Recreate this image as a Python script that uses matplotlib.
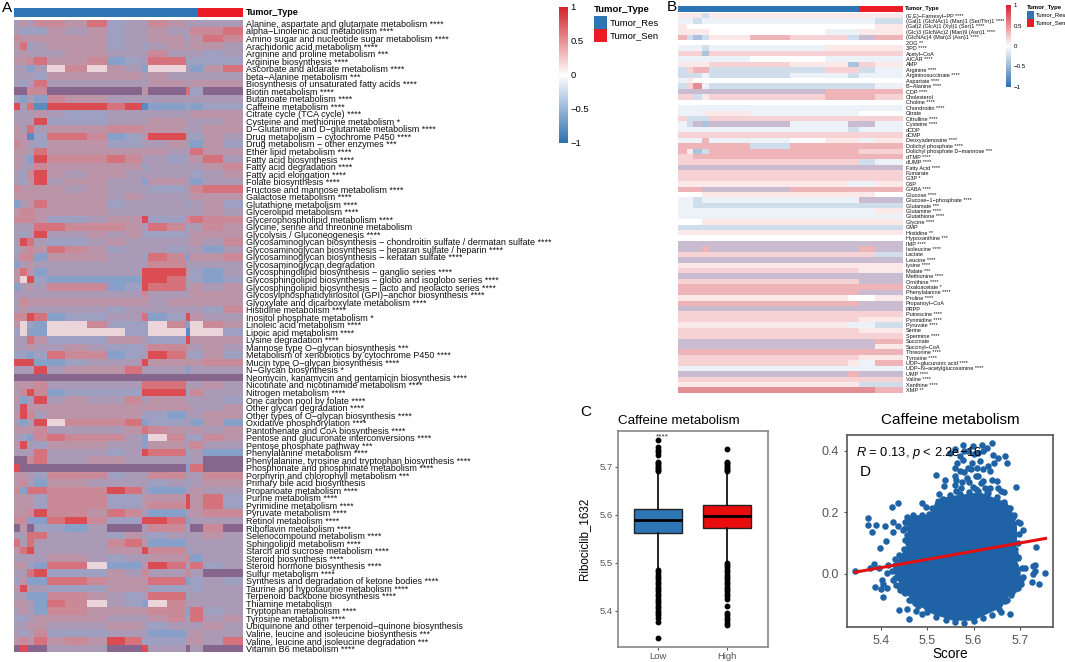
import numpy as np
import matplotlib
matplotlib.use("Agg")
import matplotlib.pyplot as plt
from matplotlib.cm import ScalarMappable
from matplotlib.colors import BoundaryNorm, LinearSegmentedColormap, ListedColormap, Normalize
from matplotlib.patches import Rectangle

plt.rcParams['font.family'] = ['Liberation Sans', 'DejaVu Sans']
plt.rcParams['mathtext.fontset'] = 'custom'
plt.rcParams['mathtext.it'] = 'Liberation Sans:italic'
plt.rcParams['mathtext.rm'] = 'Liberation Sans'

W, H = 1065, 662
M = "\u2212"

res_color = "#2e75b6"
sen_color = "#ec1c24"
tumor_counts_a = [184, 45]
tumor_counts_b = [181, 44]

# panel A, rows of pathways
pathways = [
    "Alanine, aspartate and glutamate metabolism ****", "alpha-Linolenic acid metabolism ****",
    "Amino sugar and nucleotide sugar metabolism ****", "Arachidonic acid metabolism ****",
    "Arginine and proline metabolism ***", "Arginine biosynthesis ****",
    "Ascorbate and aldarate metabolism ****", "beta-Alanine metabolism ***",
    "Biosynthesis of unsaturated fatty acids ****", "Biotin metabolism ****",
    "Butanoate metabolism ****", "Caffeine metabolism ****",
    "Citrate cycle (TCA cycle) ****", "Cysteine and methionine metabolism *",
    "D-Glutamine and D-glutamate metabolism ****", "Drug metabolism - cytochrome P450 ****",
    "Drug metabolism - other enzymes ***", "Ether lipid metabolism ****",
    "Fatty acid biosynthesis ****", "Fatty acid degradation ****",
    "Fatty acid elongation ****", "Folate biosynthesis ****",
    "Fructose and mannose metabolism ****", "Galactose metabolism ****",
    "Glutathione metabolism ****", "Glycerolipid metabolism ****",
    "Glycerophospholipid metabolism ****", "Glycine, serine and threonine metabolism",
    "Glycolysis / Gluconeogenesis ****",
    "Glycosaminoglycan biosynthesis - chondroitin sulfate / dermatan sulfate ****",
    "Glycosaminoglycan biosynthesis - heparan sulfate / heparin ****",
    "Glycosaminoglycan biosynthesis - keratan sulfate ****", "Glycosaminoglycan degradation",
    "Glycosphingolipid biosynthesis - ganglio series ****",
    "Glycosphingolipid biosynthesis - globo and isoglobo series ****",
    "Glycosphingolipid biosynthesis - lacto and neolacto series ****",
    "Glycosylphosphatidylinositol (GPI)-anchor biosynthesis ****",
    "Glyoxylate and dicarboxylate metabolism ****", "Histidine metabolism ****",
    "Inositol phosphate metabolism *", "Linoleic acid metabolism ****",
    "Lipoic acid metabolism ****", "Lysine degradation ****",
    "Mannose type O-glycan biosynthesis ***", "Metabolism of xenobiotics by cytochrome P450 ****",
    "Mucin type O-glycan biosynthesis ****", "N-Glycan biosynthesis *",
    "Neomycin, kanamycin and gentamicin biosynthesis ****",
    "Nicotinate and nicotinamide metabolism ****", "Nitrogen metabolism ****",
    "One carbon pool by folate ****", "Other glycan degradation ****",
    "Other types of O-glycan biosynthesis ****", "Oxidative phosphorylation ****",
    "Pantothenate and CoA biosynthesis ****", "Pentose and glucuronate interconversions ****",
    "Pentose phosphate pathway ***", "Phenylalanine metabolism ****",
    "Phenylalanine, tyrosine and tryptophan biosynthesis ****",
    "Phosphonate and phosphinate metabolism ****", "Porphyrin and chlorophyll metabolism ***",
    "Primary bile acid biosynthesis", "Propanoate metabolism ****", "Purine metabolism ****",
    "Pyrimidine metabolism ****", "Pyruvate metabolism ****", "Retinol metabolism ****",
    "Riboflavin metabolism ****", "Selenocompound metabolism ****",
    "Sphingolipid metabolism ****", "Starch and sucrose metabolism ****",
    "Steroid biosynthesis ****", "Steroid hormone biosynthesis ****", "Sulfur metabolism ****",
    "Synthesis and degradation of ketone bodies ****", "Taurine and hypotaurine metabolism ****",
    "Terpenoid backbone biosynthesis ****", "Thiamine metabolism", "Tryptophan metabolism ****",
    "Tyrosine metabolism ****", "Ubiquinone and other terpenoid-quinone biosynthesis",
    "Valine, leucine and isoleucine biosynthesis ***",
    "Valine, leucine and isoleucine degradation ***", "Vitamin B6 metabolism ****",
]

# tone read per block of samples, one char per block
# 0 strong blue .. 3 neutral .. 7 red, 8 dark mix, 9 pale
heat_a_rows = """
3435546233543333 3222434233433556 5444444233442465 4623444232343443
3433344333533323 4456445123662222 3313959431993146 3332444443433333
3236333333443444 8855888884886288 2131544333333333 7360777670112122
3334322333333444 3337222333443334 4363444554443344 4402665124773243
5432444223343142 4436444444433644 4317555653323463 4335444442333345
3257434433333234 3247344331443133 5444434333223566 4444444343333444
1346444233332342 4554444333333343 5554223447225655 3336655543652354
3237334342223444 3763223433333435 2454654233323313 3551444332651445
1343333333553333 4641333337774213 4972111117763212 1343555127663434
3333333335333444 3544444444344444 3433333233333325 5576122336127433
4921995222951954 2911999922990992 3364222443227444 3343343223554343
2212655123763242 7771123337444455 3337344463331333 8888888888888888
4445333336663343 3575122227772533 4137343353443332 3744444444444334
4753444442213344 3137955561223141 4445333346543434 3215655531952254
4732444331443533 3336333237662311 8856334433332388 7888888888881688
4432555233553355 4531443333232344 5166555763113433 4442555224447462
4442555224557462 4457554653113455 5511675227761333 8482213883552858
3366333243233343 6363333564113333 4673333447552333 3333443233445133
4421669114763623 3367222435335388 2411665444661232 4733222444223233
3311554323662333 4431659321953333 3431554444551623 2234444333452634
3344333443233343 3235222333113433 4546454762224436 8788333887338388
""".split()
blocks_a = [6, 7, 7, 13, 18, 22, 20, 18, 17, 6, 19, 19, 4, 13, 20, 20]
tones_a = ["#5c8bc2", "#87a0ca", "#9ea0c2", "#aa9ab6", "#bc94a8", "#ca8997",
           "#d6727c", "#dc4d53", "#86668c", "#ecd5da"]

# panel B, rows of metabolites
metabolites = [
    "(E,E)-Farnesyl-PP ****", "(Gal)1 (GlcNAc)1 (Man)1 (Ser/Thr)1 ****",
    "(Gal)2 (GlcA)1 (Xyl)1 (Ser)1 ****", "(Glc)3 (GlcNAc)2 (Man)9 (Asn)1 ****",
    "(GlcNAc)4 (Man)3 (Asn)1 ****", "2OG **", "3PD ****", "Acetyl-CoA", "AICAR ****", "AMP",
    "Arginine ****", "Argininosuccinate ****", "Aspartate ****", "B-Alanine ****", "CDP ****",
    "Cholesterol", "Choline ****", "Chondroitin ****", "Citrate", "Citrulline ****",
    "Cysteine ****", "dCDP", "dCMP", "Deoxyadenosine ****", "Dolichyl phosphate ****",
    "Dolichyl phosphate D-mannose ***", "dTMP ****", "dUMP ****", "Fatty Acid ****", "Fumarate",
    "G3P *", "G6P", "GABA ****", "Glucose ****", "Glucose-1-phosphate ****", "Glutamate ***",
    "Glutamine ****", "Glutathione ****", "Glycine ****", "GMP", "Histidine **",
    "Hypoxanthine ***", "IMP ****", "Isoleucine ****", "Lactate", "Leucine ****", "lysine ****",
    "Malate ***", "Methionine ****", "Ornithine ****", "Oxaloacetate *", "Phenylalanine ****",
    "Proline ****", "Propanoyl-CoA", "PRPP", "Putrescine ****", "Pyrimidine ****", "Pyruvate ****",
    "Serine", "Spermine ****", "Succinate", "Succinyl-CoA", "Threonine ****", "Tyrosine ****",
    "UDP-glucuronic acid ****", "UDP-N-acetylglucosamine ****", "UMP ****", "Valine ****",
    "Xanthine ****", "XMP **",
]

# 0 strong blue, 1 blue, 2 pale blue, 3 bluish white, 4 white,
# 5 pale pink, 6 pink, 7 red pink, 8 red, 9 grey purple
heat_b_rows = """
55525555555 33233333332 54444444445 55554443355 72125766297 44444444444
33323335555 66616666666 33333443333 55556655165 26772226623 22232233233
35444444444 26832222223 99999997777 66256667776 44444444444 33333333333
33355333344 62226666666 32919933993 33333333233 66666666666 33373345535
77777277777 75127777766 66777777777 66666666623 99999999999 66666666666
66666666666 55555555335 77799977777 44455555554 33233333399 33222222222
33333333335 33333333333 44455555555 22222222222 55555555555 44444444444
99999999999 99979999979 66666666662 99999999999 55555555555 66666666655
99999999999 66666666699 77777777777 77777777799 55555555445 77777777799
99999999999 66666666666 66666666655 55555555332 66666666655 66666666666
99999999997 99999999995 77777777777 66666666655 66666666537 33333333333
99999999799 66666666666 55555555522 88888888887
""".split()
blocks_b = [9, 6, 9, 7, 41, 40, 35, 23, 11, 16, 28]
tones_b = ["#6f9ccb", "#a9c3de", "#d0deec", "#edf2f8", "#ffffff", "#fbe8e8",
           "#f6d2d4", "#eeb4b8", "#e38e94", "#c9bcd0"]

colorbar_ticks = [-1, -0.5, 0, 0.5, 1]
colorbar_labels = [M + "1", M + "0.5", "0", "0.5", "1"]

# panel C
box_groups = ["Low", "High"]
box_q1 = [5.561, 5.5715]
box_med = [5.589, 5.597]
box_q3 = [5.6125, 5.619]
box_lo = [5.488, 5.502]
box_hi = [5.686, 5.688]
fliers_low = [5.343, 5.377, 5.385, 5.39, 5.395, 5.40, 5.405, 5.41, 5.415, 5.42, 5.425, 5.43,
              5.435, 5.44, 5.445, 5.45, 5.455, 5.46, 5.465, 5.47, 5.475, 5.48, 5.485,
              5.69, 5.693, 5.696, 5.70, 5.703, 5.707, 5.71, 5.725, 5.73, 5.735, 5.74, 5.755]
fliers_high = [5.37, 5.375, 5.38, 5.385, 5.39, 5.395, 5.41, 5.425, 5.43, 5.435, 5.44, 5.445,
               5.45, 5.455, 5.46, 5.465, 5.47, 5.475, 5.48, 5.485, 5.49, 5.495, 5.50,
               5.69, 5.693, 5.696, 5.70, 5.703, 5.707, 5.71, 5.737]

# panel D, solid middle of the cloud (outline) and the points around it
core_x = [5.456, 5.513, 5.520, 5.556, 5.614, 5.671, 5.685, 5.692, 5.692, 5.685, 5.700, 5.700,
          5.678, 5.660, 5.628, 5.599, 5.556, 5.513, 5.477, 5.449, 5.427, 5.456, 5.459]
core_y = [0.186, 0.192, 0.241, 0.252, 0.263, 0.230, 0.192, 0.154, 0.099, 0.066, 0.012, -0.032,
          -0.064, -0.108, -0.130, -0.151, -0.151, -0.130, -0.097, -0.053, 0.012, 0.088, 0.143]
points_x = [5.345, 5.372, 5.372, 5.391, 5.382, 5.41, 5.411, 5.399, 5.427, 5.427, 5.438, 5.449,
            5.425, 5.437, 5.49, 5.498, 5.51, 5.52, 5.538, 5.525, 5.536,
            5.43, 5.386, 5.378, 5.397, 5.416, 5.413, 5.402, 5.406, 5.388, 5.40, 5.414, 5.404,
            5.427, 5.434, 5.442, 5.452, 5.46, 5.474, 5.44, 5.456, 5.462, 5.476, 5.488, 5.499,
            5.678, 5.707, 5.70, 5.689, 5.696, 5.71, 5.728, 5.733, 5.732, 5.728, 5.753, 5.726,
            5.74, 5.735, 5.703, 5.696, 5.682, 5.671, 5.66,
            5.692, 5.671, 5.667, 5.653, 5.642, 5.639, 5.619, 5.599, 5.578, 5.56, 5.549, 5.571,
            5.589, 5.61, 5.628, 5.578, 5.596, 5.614, 5.632, 5.635, 5.56, 5.571, 5.589, 5.607,
            5.563, 5.585, 5.61, 5.621, 5.639, 5.65, 5.56, 5.574, 5.599, 5.624, 5.653, 5.66,
            5.563, 5.628, 5.675, 5.685, 5.456, 5.459, 5.467, 5.449, 5.438,
            # rim of the solid part
            5.456, 5.47, 5.49, 5.505, 5.515, 5.522, 5.535, 5.55, 5.57, 5.59, 5.61, 5.63, 5.65,
            5.665, 5.678, 5.688, 5.695, 5.697, 5.695, 5.69, 5.695, 5.705, 5.706, 5.703, 5.69,
            5.68, 5.668, 5.655, 5.64, 5.62, 5.60, 5.58, 5.56, 5.54, 5.52, 5.50, 5.48, 5.465,
            5.45, 5.44, 5.43, 5.425, 5.43, 5.44, 5.45, 5.453, 5.452, 5.452,
            # more of the top group
            5.58, 5.60, 5.62, 5.595, 5.605, 5.58, 5.62, 5.645, 5.565, 5.59, 5.615, 5.575, 5.635,
            5.605, 5.56, 5.665]
points_y = [0.009, 0.180, 0.159, 0.158, 0.136, 0.157, 0.108, 0.084, 0.167, 0.137, 0.154, 0.143,
            0.217, 0.232, 0.232, 0.216, 0.214, 0.323, 0.306, 0.260, 0.287,
            0.049, 0.032, 0.017, 0.017, 0.028, 0.001, -0.021, -0.032, -0.043, -0.05, -0.048,
            -0.075, -0.021, -0.037, -0.053, -0.064, -0.086, -0.094, -0.119, -0.116, -0.146,
            -0.121, -0.13, -0.113, -0.132, 0.143, 0.165, 0.066, 0.056, 0.017, 0.025, 0.028,
            0.01, -0.002, 0.001, -0.027, -0.032, 0.087, -0.021, -0.046, -0.059, -0.086, -0.126,
            0.284, 0.361, 0.385, 0.377, 0.388, 0.426, 0.421, 0.415, 0.419, 0.407, 0.393, 0.383,
            0.399, 0.393, 0.41, 0.372, 0.361, 0.366, 0.35, 0.334, 0.344, 0.334, 0.344, 0.344,
            0.306, 0.312, 0.317, 0.301, 0.306, 0.303, 0.29, 0.279, 0.284, 0.279, 0.279, 0.268,
            0.268, 0.263, 0.214, 0.186, 0.126, 0.099, 0.143, -0.01, 0.012,
            0.186, 0.19, 0.19, 0.195, 0.205, 0.225, 0.245, 0.255, 0.26, 0.265, 0.268, 0.262,
            0.25, 0.235, 0.215, 0.19, 0.17, 0.13, 0.10, 0.08, 0.05, 0.02, -0.01, -0.035, -0.05,
            -0.07, -0.09, -0.115, -0.135, -0.145, -0.155, -0.16, -0.158, -0.15, -0.14, -0.125,
            -0.105, -0.085, -0.06, -0.04, -0.015, 0.01, 0.03, 0.06, 0.08, 0.11, 0.15, 0.17,
            0.40, 0.39, 0.40, 0.34, 0.32, 0.33, 0.34, 0.36, 0.36, 0.30, 0.295, 0.30, 0.28,
            0.275, 0.32, 0.265]
fit_x = [5.345, 5.755]
fit_y = [0.005, 0.115]

fig = plt.figure(figsize=(W / 100, H / 100), dpi=100)


def axes_px(x0, y0, x1, y1):
    return fig.add_axes([x0 / W, 1 - y1 / H, (x1 - x0) / W, (y1 - y0) / H])


def heatmap(box, rows, blocks, tones, labels, fontsize):
    ax = axes_px(*box)
    matrix = np.array([[int(c) for c in row] for row in rows])
    edges = np.concatenate([[0], np.cumsum(blocks)])
    ax.pcolormesh(edges, np.arange(len(rows) + 1), matrix, cmap=ListedColormap(tones),
                  norm=BoundaryNorm(np.arange(11), 10), antialiased=False)
    ax.set_ylim(len(rows), 0)
    ax.set_xticks([])
    ax.yaxis.tick_right()
    ax.set_yticks(np.arange(len(rows)) + 0.5)
    ax.set_yticklabels([s.replace("-", M) for s in labels], fontsize=fontsize, color="#111111")
    ax.tick_params(axis='y', length=0, pad=2)
    for s in ax.spines.values():
        s.set_visible(False)


def tumor_bar(box, counts):
    ax = axes_px(*box)
    ax.barh(0, counts[0], height=1, color=res_color)
    ax.barh(0, counts[1], height=1, left=counts[0], color=sen_color)
    ax.set_xlim(0, sum(counts))
    ax.set_ylim(-0.5, 0.5)
    ax.axis('off')


def colorbar(box, fontsize):
    cax = axes_px(*box)
    cmap = LinearSegmentedColormap.from_list("rwb", ["#2f70af", "#ffffff", "#d2232a"])
    cb = fig.colorbar(ScalarMappable(Normalize(-1, 1), cmap), cax=cax)
    cb.outline.set_visible(False)
    cb.set_ticks(colorbar_ticks)
    cb.set_ticklabels(colorbar_labels, fontsize=fontsize)
    cb.ax.tick_params(length=0, pad=2)


# A
tumor_bar((14, 7.5, 243, 16.5), tumor_counts_a)
heatmap((14, 19.7, 243, 652.3), heat_a_rows, blocks_a, tones_a, pathways, 6.5)
colorbar((559, 7, 568, 143), 6.8)

# B
tumor_bar((678, 5.5, 903, 11.5), tumor_counts_b)
heatmap((678, 12.8, 903, 392.8), heat_b_rows, blocks_b, tones_b, metabolites, 3.95)
colorbar((1006, 5, 1011, 87), 4.4)

# C
ax = axes_px(618, 431, 768, 647)
stats = []
for i, name in enumerate(box_groups):
    stats.append({'label': name, 'med': box_med[i], 'q1': box_q1[i], 'q3': box_q3[i],
                  'whislo': box_lo[i], 'whishi': box_hi[i],
                  'fliers': fliers_low if i == 0 else fliers_high})
parts = ax.bxp(stats, positions=[1, 2], widths=0.7, patch_artist=True, showcaps=False,
               medianprops=dict(color="black", linewidth=2),
               whiskerprops=dict(color="black", linewidth=1.2),
               flierprops=dict(marker='o', markersize=3.2, markerfacecolor="black",
                               markeredgecolor="black"))
for patch, c in zip(parts['boxes'], [res_color, "#e80c0c"]):
    patch.set_facecolor(c)
    patch.set_edgecolor("#222222")
    patch.set_linewidth(1)
ax.set_xlim(0.42, 2.6)
ax.set_ylim(5.324, 5.774)
ax.set_yticks([5.4, 5.5, 5.6, 5.7])
ax.tick_params(labelsize=6.8, colors="#555555", length=2, width=0.8, pad=1.5)
ax.set_ylabel("Ribociclib_1632", fontsize=8.4)
ax.yaxis.set_label_coords(-0.187, 0.5)
ax.set_title("Caffeine metabolism", fontsize=9.6, loc='left', pad=5)
ax.text(1.07, 5.762, "****", ha='center', va='center', fontsize=6, color="#333333")
for s in ax.spines.values():
    s.set_color("#888888")
    s.set_linewidth(1.2)

# D
ax = axes_px(847, 435, 1053, 627)
ax.fill(core_x, core_y, color="#1f63a6", zorder=2)
ax.scatter(points_x, points_y, s=22, color="#1f63a6", linewidths=0, zorder=2)
ax.plot(fit_x, fit_y, color="#e41010", linewidth=2.2, zorder=3)
ax.set_xlim(5.3275, 5.771)
ax.set_ylim(-0.1737, 0.4521)
ax.set_xticks([5.4, 5.5, 5.6, 5.7])
ax.set_yticks([0.0, 0.2, 0.4])
ax.tick_params(labelsize=9, colors="#555555", length=2.5, width=0.8)
ax.set_xlabel("Score", fontsize=9.8, labelpad=0)
ax.set_title("Caffeine metabolism", fontsize=11, pad=8)
ax.text(5.347, 0.393, "$\\mathit{R}$ = 0.13, $\\mathit{p}$ < 2.2e" + M + "16", fontsize=9.3,
        va='center', zorder=4)
for s in ax.spines.values():
    s.set_color("#555555")
    s.set_linewidth(1.2)

# overlay in pixel coordinates for the letters and the small legends
over = fig.add_axes([0, 0, 1, 1], zorder=10)
over.set_xlim(0, W)
over.set_ylim(H, 0)
over.axis('off')
over.text(2, 8, "A", fontsize=11, va='center')
over.text(667, 7, "B", fontsize=11, va='center')
over.text(580, 412, "C", fontsize=11, va='center')
over.text(860, 472, "D", fontsize=11, va='center')
over.text(246, 12.5, "Tumor_Type", fontsize=6.5, fontweight='bold', va='center')
over.text(905, 8.7, "Tumor_Type", fontsize=4.2, fontweight='bold', va='center')

over.text(594, 10, "Tumor_Type", fontsize=6.8, fontweight='bold', va='center')
over.add_patch(Rectangle((594, 16), 13, 13, color=res_color, lw=0))
over.add_patch(Rectangle((594, 29), 13, 13, color=sen_color, lw=0))
over.text(610, 23, "Tumor_Res", fontsize=6.8, va='center')
over.text(610, 36, "Tumor_Sen", fontsize=6.8, va='center')

over.text(1027, 7, "Tumor_Type", fontsize=4.3, fontweight='bold', va='center')
over.add_patch(Rectangle((1027, 11), 7, 8, color=res_color, lw=0))
over.add_patch(Rectangle((1027, 19), 7, 8, color=sen_color, lw=0))
over.text(1036, 15, "Tumor_Res", fontsize=4.2, va='center')
over.text(1036, 23, "Tumor_Sen", fontsize=4.2, va='center')

fig.savefig("out.png", dpi=100)
